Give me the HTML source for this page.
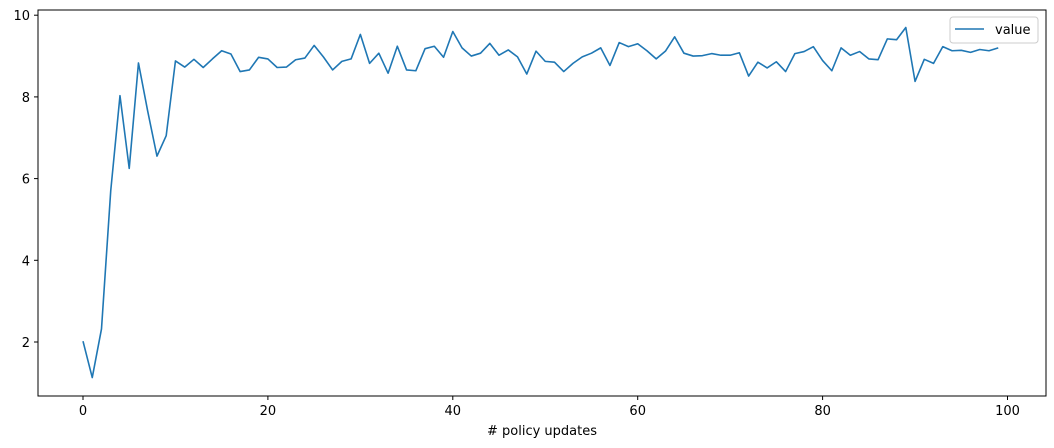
<!DOCTYPE html>
<html><head><meta charset="utf-8"><style>
body{margin:0;background:#fff;}
svg{display:block;font-family:"DejaVu Sans","Liberation Sans",sans-serif;}
</style></head><body>
<svg id="chart" width="1054" height="448">
<rect x="38" y="10" width="1008" height="386" fill="#fff" stroke="#000" stroke-width="1"/>
<g id="xticks"></g>
<g id="yticks"></g>
<path id="line" fill="none" stroke="#1f77b4" stroke-width="1.6" stroke-linejoin="round"/>
<text x="542" y="435" text-anchor="middle" font-size="13"># policy updates</text>
<g>
<rect x="950" y="17" width="88" height="26" rx="3" fill="#fff" stroke="#ccc"/>
<line x1="955" y1="29" x2="984" y2="29" stroke="#1f77b4" stroke-width="1.6"/>
<text x="995" y="34" font-size="13">value</text>
</g>
</svg>
<script>
const values=[2.02,1.13,2.32,5.7,8.03,6.25,8.83,7.65,6.55,7.05,8.88,8.73,8.92,8.72,8.93,9.13,9.05,8.62,8.66,8.97,8.93,8.72,8.73,8.91,8.95,9.26,8.98,8.66,8.87,8.93,9.53,8.82,9.07,8.58,9.24,8.66,8.64,9.18,9.24,8.97,9.6,9.2,9.0,9.07,9.31,9.02,9.15,8.98,8.56,9.12,8.87,8.85,8.62,8.82,8.98,9.07,9.2,8.77,9.33,9.23,9.3,9.13,8.93,9.12,9.47,9.07,9.0,9.01,9.06,9.02,9.02,9.08,8.51,8.85,8.71,8.86,8.62,9.06,9.11,9.23,8.89,8.64,9.2,9.02,9.11,8.93,8.91,9.42,9.4,9.7,8.38,8.92,8.82,9.23,9.13,9.14,9.09,9.16,9.13,9.2];
const xTicks=[0,20,40,60,80,100];
const yTicks=[2,4,6,8,10];
const NS="http://www.w3.org/2000/svg";
function xs(v){return 83+v*9.245;}
function ys(v){return 342-(v-2)*40.85;}
let d="";
values.forEach((v,i)=>{d+=(i?"L":"M")+xs(i).toFixed(2)+" "+ys(v).toFixed(2);});
document.getElementById("line").setAttribute("d",d);
const xg=document.getElementById("xticks");
xTicks.forEach(t=>{
 const l=document.createElementNS(NS,"line");
 l.setAttribute("x1",xs(t));l.setAttribute("x2",xs(t));l.setAttribute("y1",396);l.setAttribute("y2",400);l.setAttribute("stroke","#000");
 
 
 xg.appendChild(l);
 const tx=document.createElementNS(NS,"text");
 tx.setAttribute("x",xs(t));tx.setAttribute("y",415);tx.setAttribute("text-anchor","middle");tx.setAttribute("font-size","13");
 tx.textContent=t;
 
 
 xg.appendChild(tx);
});
const yg=document.getElementById("yticks");
yTicks.forEach(t=>{
 const l=document.createElementNS(NS,"line");
 l.setAttribute("x1",34);l.setAttribute("x2",38);l.setAttribute("y1",ys(t));l.setAttribute("y2",ys(t));l.setAttribute("stroke","#000");
 
 
 yg.appendChild(l);
 const tx=document.createElementNS(NS,"text");
 tx.setAttribute("x",30);tx.setAttribute("y",ys(t)+5);tx.setAttribute("text-anchor","end");tx.setAttribute("font-size","13");
 tx.textContent=t;
 
 
 yg.appendChild(tx);
});
</script>
</body></html>
